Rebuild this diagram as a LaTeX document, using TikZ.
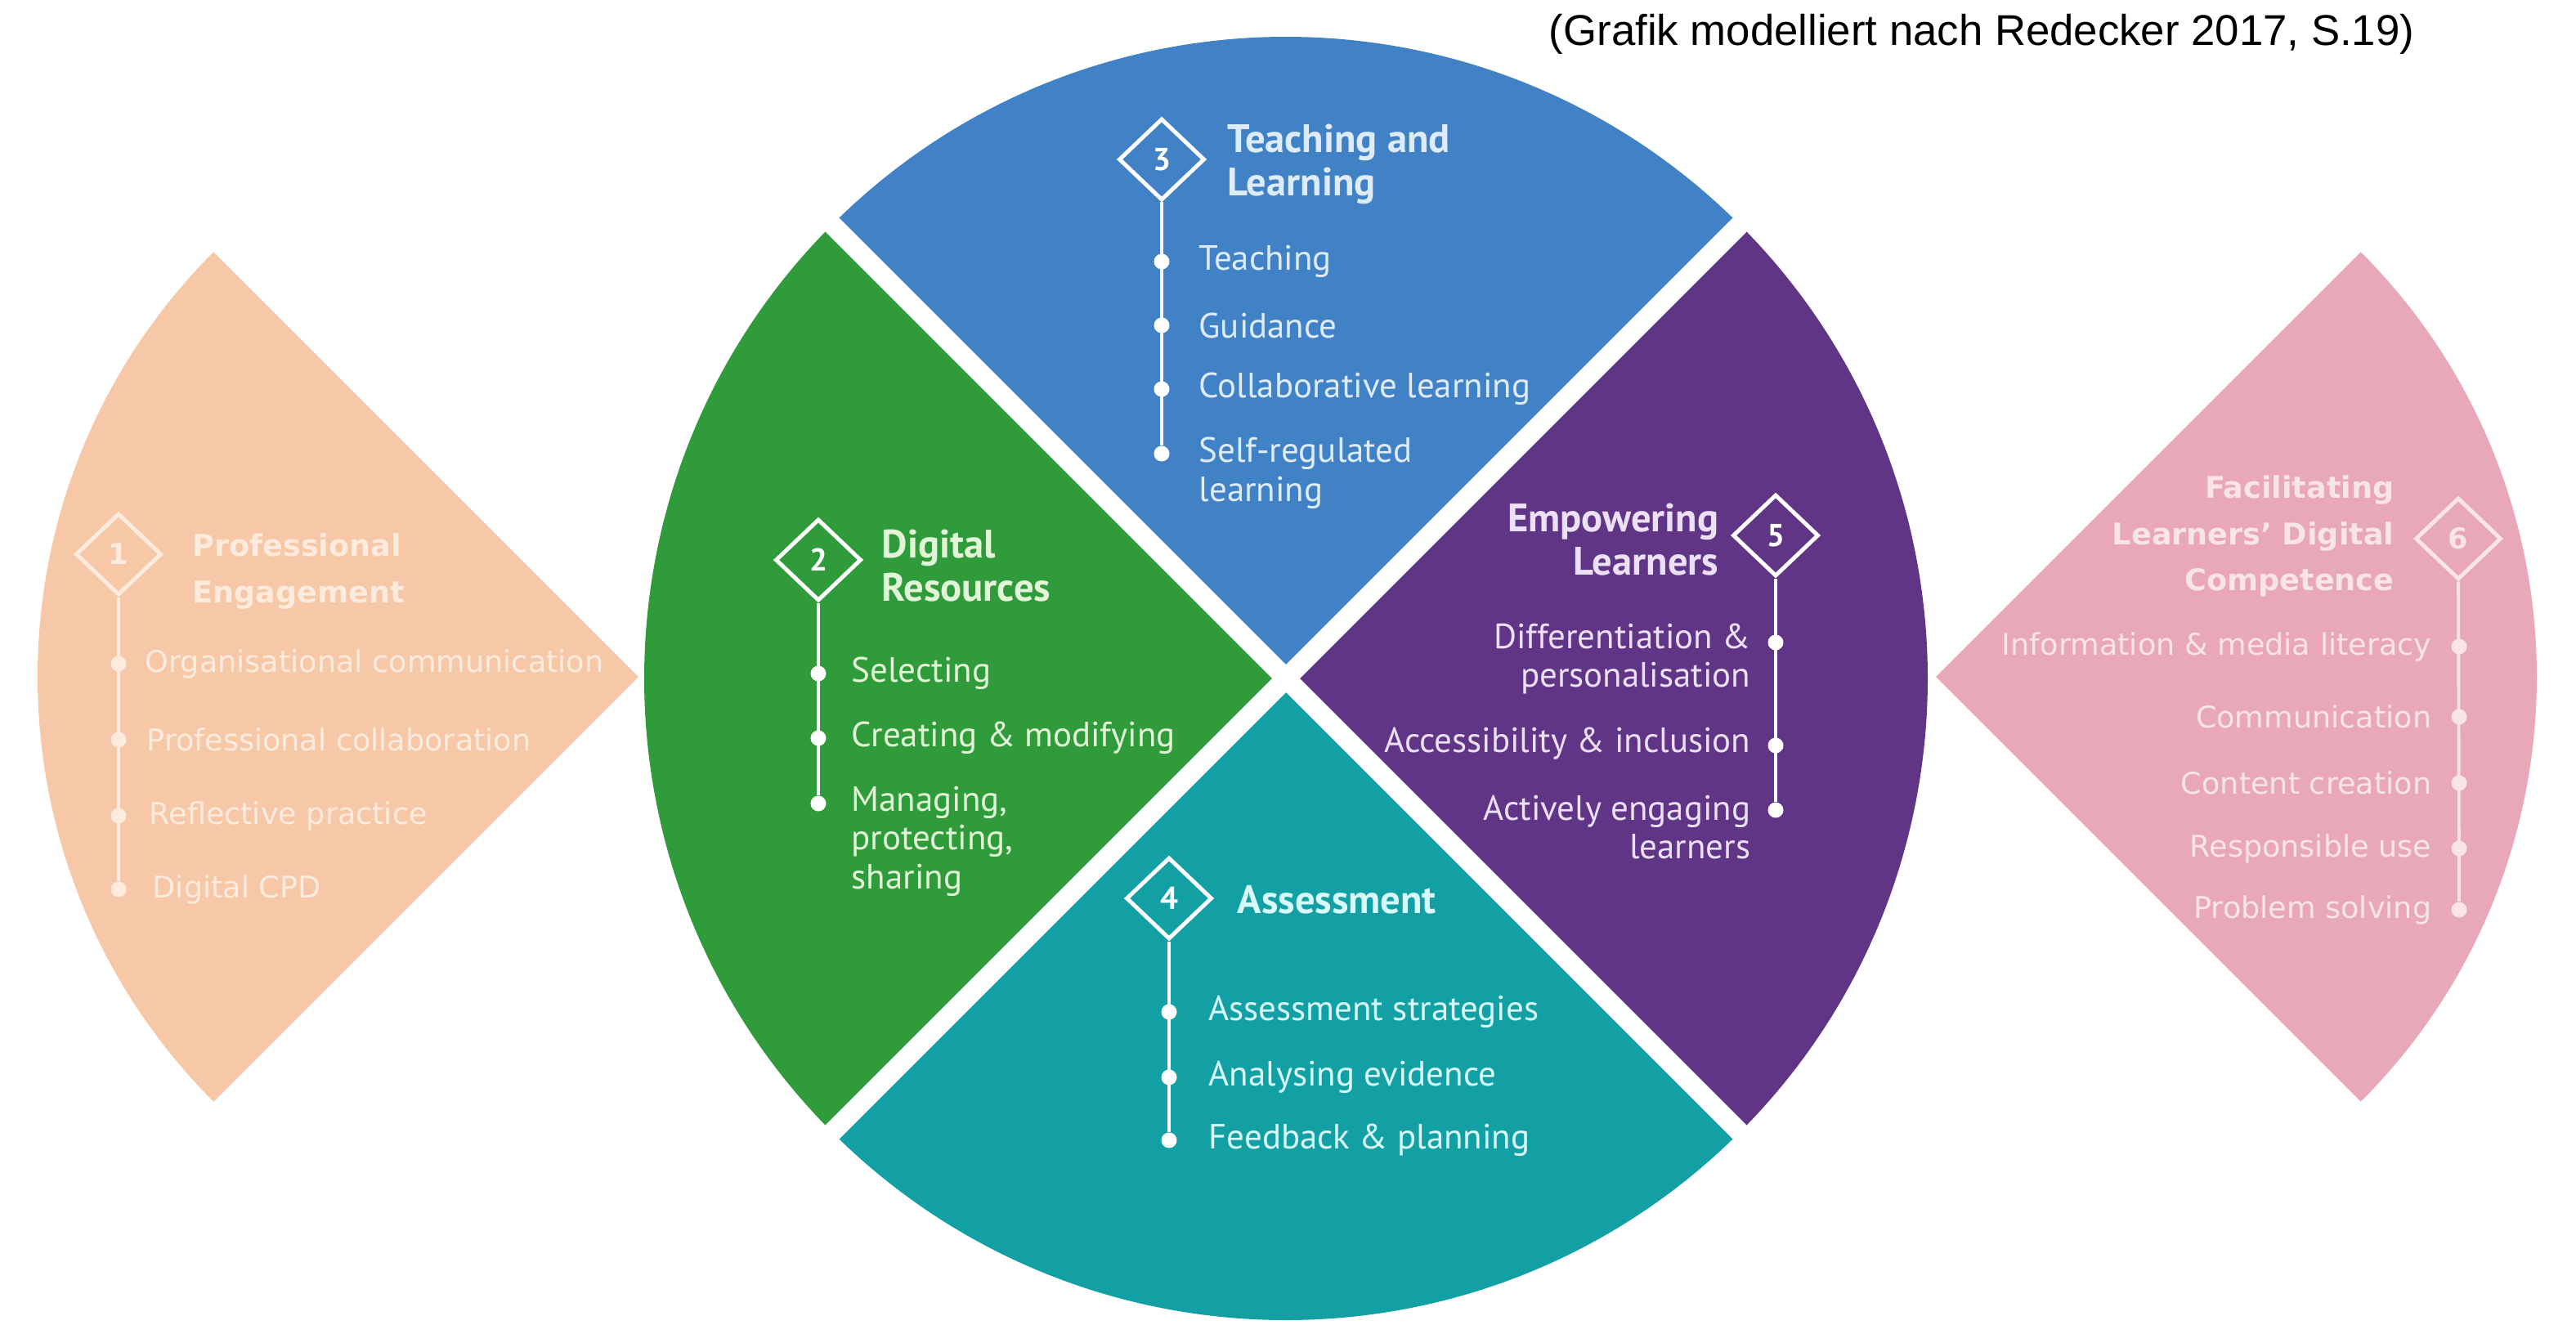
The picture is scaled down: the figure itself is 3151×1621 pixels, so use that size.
\documentclass[tikz,border=0pt]{standalone}
\usepackage{fontspec}
\usepackage{tikz}
\usetikzlibrary{shapes.geometric}
\setmainfont{PT Sans}
\newfontfamily\fanfont{DejaVu Sans}
\newfontfamily\notefont{Liberation Sans}
\definecolor{peach}{RGB}{246,200,168}
\definecolor{peachtext}{RGB}{253,235,222}
\definecolor{resgreen}{RGB}{48,155,58}
\definecolor{greentext}{RGB}{225,245,215}
\definecolor{teachblue}{RGB}{64,130,197}
\definecolor{bluetext}{RGB}{222,236,250}
\definecolor{assteal}{RGB}{18,160,165}
\definecolor{tealtext}{RGB}{215,250,250}
\definecolor{empurple}{RGB}{96,53,134}
\definecolor{purpletext}{RGB}{236,224,246}
\definecolor{facpink}{RGB}{232,168,184}
\definecolor{pinktext}{RGB}{249,228,233}

\begin{document}
\begin{tikzpicture}[x=0.01cm, y=0.01cm]
	\tikzstyle{every node}+=[inner sep=0pt]
	\tikzstyle{rhomb}=[diamond, draw=white, line width=1.4pt, minimum width=1.05cm, minimum height=1cm, text=white, font=\bfseries\fontsize{11}{11}\selectfont]
	\tikzstyle{dot}=[circle, fill=white, minimum size=0.19cm]
	\tikzstyle{link}=[white, line width=1.1pt]
	\tikzstyle{item}=[align=left, font=\fontsize{12.2}{13.5}\selectfont]
	\tikzstyle{head}=[align=left, font=\bfseries\fontsize{13.8}{15}\selectfont]
	\tikzstyle{fanitem}=[font=\fanfont\fontsize{10.4}{12}\selectfont]
	\tikzstyle{fanhead}=[font=\fanfont\bfseries\fontsize{10.4}{16}\selectfont]
	\useasboundingbox (0,0) rectangle (3151,-1621);
	% source note
	\node [anchor=east, font=\notefont\fontsize{15}{15}\selectfont] (note) at (2954,-42) {(Grafik modelliert nach Redecker 2017, S.19)};
	% side fans
	\fill [peach] (781,-828) -- ++(135:735) arc (135:225:735) -- cycle;
	\fill [facpink] (2368,-828) -- ++(-45:735) arc (-45:45:735) -- cycle;
	% wheel
	\fill [resgreen] (1573,-830) -- ++(135:785) arc (135:225:785) -- cycle;
	\fill [teachblue] (1573,-830) -- ++(45:785) arc (45:135:785) -- cycle;
	\fill [empurple] (1573,-830) -- ++(-45:785) arc (-45:45:785) -- cycle;
	\fill [assteal] (1573,-830) -- ++(225:785) arc (225:315:785) -- cycle;
	\draw [white, line width=0.24cm] (1573,-830) ++(135:820) -- ++(-45:1640);
	\draw [white, line width=0.24cm] (1573,-830) ++(45:820) -- ++(225:1640);

	% 1 professional engagement
	\node [rhomb, draw=peachtext, text=peachtext, font=\fanfont\bfseries\fontsize{10}{10}\selectfont] (d1) at (145,-678) {1};
	\node [dot, fill=peachtext] (d1a) at (145,-812) {};
	\node [dot, fill=peachtext] (d1b) at (145,-905) {};
	\node [dot, fill=peachtext] (d1c) at (145,-998) {};
	\node [dot, fill=peachtext] (d1d) at (145,-1088) {};
	\draw [link, peachtext] (d1) -- (d1d);
	\node [fanhead, align=left, anchor=west, text=peachtext] (h1) at (235,-699) {Professional\\Engagement};
	\node [fanitem, anchor=west, text=peachtext] (t1a) at (177,-812) {Organisational communication};
	\node [fanitem, anchor=west, text=peachtext] (t1b) at (179,-905) {Professional collaboration};
	\node [fanitem, anchor=west, text=peachtext] (t1c) at (182,-998) {Reflective practice};
	\node [fanitem, anchor=west, text=peachtext] (t1d) at (186,-1088) {Digital CPD};

	% 2 digital resources
	\node [rhomb] (d2) at (1001,-685) {2};
	\node [dot] (d2a) at (1001,-824) {};
	\node [dot] (d2b) at (1001,-903) {};
	\node [dot] (d2c) at (1001,-983) {};
	\draw [link] (d2) -- (d2c);
	\node [head, anchor=west, text=greentext] (h2) at (1078,-692) {Digital\\Resources};
	\node [item, anchor=west, text=greentext] (t2a) at (1041,-824) {Selecting};
	\node [item, anchor=west, text=greentext] (t2b) at (1041,-903) {Creating \& modifying};
	\node [item, anchor=west, text=greentext] (t2c) at (1041,-1029) {Managing,\\protecting,\\sharing};

	% 3 teaching and learning
	\node [rhomb] (d3) at (1421,-195) {3};
	\node [dot] (d3a) at (1421,-320) {};
	\node [dot] (d3b) at (1421,-398) {};
	\node [dot] (d3c) at (1421,-476) {};
	\node [dot] (d3d) at (1421,-555) {};
	\draw [link] (d3) -- (d3d);
	\node [head, anchor=west, text=bluetext] (h3) at (1501,-201) {Teaching and\\Learning};
	\node [item, anchor=west, text=bluetext] (t3a) at (1466,-320) {Teaching};
	\node [item, anchor=west, text=bluetext] (t3b) at (1466,-398) {Guidance};
	\node [item, anchor=west, text=bluetext] (t3c) at (1466,-476) {Collaborative learning};
	\node [item, anchor=west, text=bluetext] (t3d) at (1466,-579) {Self-regulated\\learning};

	% 4 assessment
	\node [rhomb] (d4) at (1430,-1099) {4};
	\node [dot] (d4a) at (1430,-1238) {};
	\node [dot] (d4b) at (1430,-1318) {};
	\node [dot] (d4c) at (1430,-1395) {};
	\draw [link] (d4) -- (d4c);
	\node [head, anchor=west, text=tealtext] (h4) at (1513,-1101) {Assessment};
	\node [item, anchor=west, text=tealtext] (t4a) at (1478,-1238) {Assessment strategies};
	\node [item, anchor=west, text=tealtext] (t4b) at (1478,-1318) {Analysing evidence};
	\node [item, anchor=west, text=tealtext] (t4c) at (1478,-1395) {Feedback \& planning};

	% 5 empowering learners
	\node [rhomb] (d5) at (2172,-655) {5};
	\node [dot] (d5a) at (2172,-786) {};
	\node [dot] (d5b) at (2172,-912) {};
	\node [dot] (d5c) at (2172,-991) {};
	\draw [link] (d5) -- (d5c);
	\node [head, align=right, anchor=east, text=purpletext] (h5) at (2103,-660) {Empowering\\Learners};
	\node [item, align=right, anchor=east, text=purpletext] (t5a) at (2142,-806) {Differentiation \&\\personalisation};
	\node [item, align=right, anchor=east, text=purpletext] (t5b) at (2142,-910) {Accessibility \& inclusion};
	\node [item, align=right, anchor=east, text=purpletext] (t5c) at (2142,-1012) {Actively engaging\\learners};

	% 6 facilitating learners' digital competence
	\node [rhomb, draw=pinktext, text=pinktext, font=\fanfont\bfseries\fontsize{10}{10}\selectfont] (d6) at (3007,-659) {6};
	\node [dot, fill=pinktext] (d6a) at (3008,-791) {};
	\node [dot, fill=pinktext] (d6b) at (3008,-877) {};
	\node [dot, fill=pinktext] (d6c) at (3008,-958) {};
	\node [dot, fill=pinktext] (d6d) at (3008,-1038) {};
	\node [dot, fill=pinktext] (d6e) at (3008,-1113) {};
	\draw [link, pinktext] (d6) -- (d6e);
	\node [fanhead, align=right, anchor=east, text=pinktext] (h6) at (2929,-656) {Facilitating\\Learners’ Digital\\Competence};
	\node [fanitem, anchor=east, text=pinktext] (t6a) at (2975,-791) {Information \& media literacy};
	\node [fanitem, anchor=east, text=pinktext] (t6b) at (2975,-877) {Communication};
	\node [fanitem, anchor=east, text=pinktext] (t6c) at (2975,-958) {Content creation};
	\node [fanitem, anchor=east, text=pinktext] (t6d) at (2975,-1038) {Responsible use};
	\node [fanitem, anchor=east, text=pinktext] (t6e) at (2975,-1113) {Problem solving};
\end{tikzpicture}
\end{document}
